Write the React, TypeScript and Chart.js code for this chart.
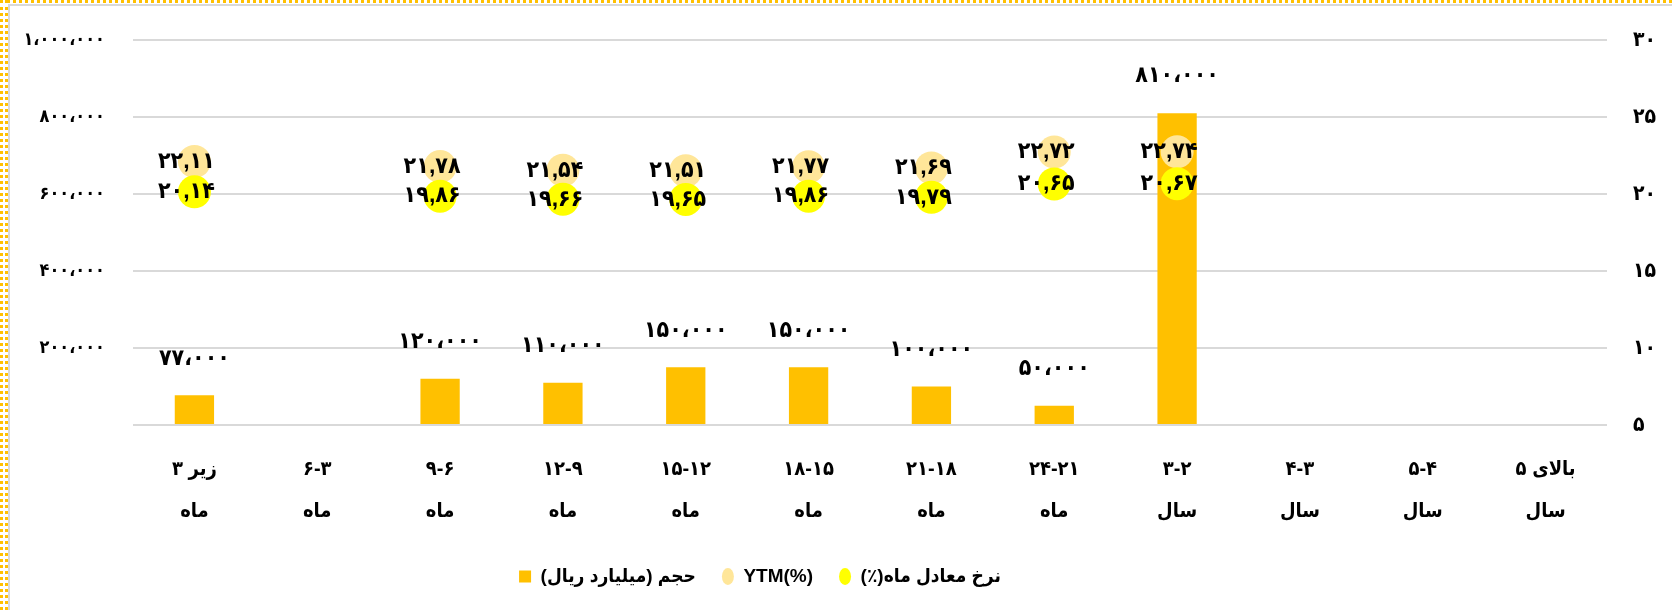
import React, { useEffect, useRef } from 'react';
import { Chart, registerables } from 'chart.js';

Chart.register(...registerables);

const FONT = '"Liberation Sans", "DejaVu Sans Condensed", "DejaVu Sans", sans-serif';

// Category labels (first line, second line)
const categories: string[][] = [
  ['۳ زیر', 'ماه'],
  ['۶\u200E-۳', 'ماه'],
  ['۹\u200E-۶', 'ماه'],
  ['۱۲\u200E-۹', 'ماه'],
  ['۱۵\u200E-۱۲', 'ماه'],
  ['۱۸\u200E-۱۵', 'ماه'],
  ['۲۱\u200E-۱۸', 'ماه'],
  ['۲۴\u200E-۲۱', 'ماه'],
  ['۳\u200E-۲', 'سال'],
  ['۴\u200E-۳', 'سال'],
  ['۵\u200E-۴', 'سال'],
  ['۵ بالای', 'سال'],
];

const volume: (number | null)[] = [77000, null, 120000, 110000, 150000, 150000, 100000, 50000, 810000, null, null, null];
const ytm: (number | null)[] = [22.11, null, 21.78, 21.54, 21.51, 21.77, 21.69, 22.72, 22.74, null, null, null];
const monthlyRate: (number | null)[] = [20.14, null, 19.86, 19.66, 19.65, 19.86, 19.79, 20.65, 20.67, null, null, null];

const seriesNames = ['حجم (میلیارد ریال)\u200F', 'YTM(%)', 'نرخ معادل ماه(٪)\u200F'];

const leftTicks = { min: 0, max: 1000000, step: 200000 };
const rightTicks = { min: 5, max: 30, step: 5 };

const FA = '۰۱۲۳۴۵۶۷۸۹';
const toFa = (s: string) => s.replace(/[0-9]/g, (d) => FA[+d]);
const fmtInt = (v: number) => toFa(Math.round(v).toString().replace(/\B(?=(\d{3})+(?!\d))/g, '،'));
const fmtDec = (v: number) => toFa(v.toFixed(2).replace('.', ','));

const valueLabels = {
  id: 'valueLabels',
  afterDatasetsDraw(chart: any) {
    const ctx = chart.ctx;
    ctx.save();
    ctx.fillStyle = '#000';
    ctx.font = `bold 23px ${FONT}`;
    ctx.textAlign = 'center';
    ctx.textBaseline = 'middle';
    const order = [2, 1, 0];
    order.forEach((di) => {
      const ds = chart.data.datasets[di];
      const meta = chart.getDatasetMeta(di);
      meta.data.forEach((el: any, i: number) => {
        const v = ds.data[i];
        if (v == null) return;
        if (ds.type === 'bar') {
          ctx.fillText(fmtInt(v), el.x, el.y - 37);
        } else {
          ctx.fillText(fmtDec(v), el.x - 8, el.y);
        }
      });
    });
    ctx.restore();
  },
};

const legendShift = {
  id: 'legendShift',
  afterLayout(chart: any) {
    const lg = chart.legend;
    if (!lg) return;
    const dx = 760 - (lg.left + lg.right) / 2;
    lg.left += dx;
    lg.right += dx;
  },
};

export default function App() {
  const ref = useRef<HTMLCanvasElement | null>(null);
  useEffect(() => {
    if (!ref.current) return;
    const chart = new Chart(ref.current, {
      type: 'bar',
      data: {
        labels: categories,
        datasets: [
          {
            type: 'line',
            label: seriesNames[2],
            data: monthlyRate,
            yAxisID: 'y1',
            showLine: false,
            pointRadius: 16.5,
            pointHoverRadius: 16.5,
            pointBorderWidth: 0,
            borderWidth: 0,
            pointBackgroundColor: '#FFFF00',
            backgroundColor: '#FFFF00',
            borderColor: '#FFFF00',
            pointStyle: 'circle',
          } as any,
          {
            type: 'line',
            label: seriesNames[1],
            data: ytm,
            yAxisID: 'y1',
            showLine: false,
            pointRadius: 16.5,
            pointHoverRadius: 16.5,
            pointBorderWidth: 0,
            borderWidth: 0,
            pointBackgroundColor: '#FFE699',
            backgroundColor: '#FFE699',
            borderColor: '#FFE699',
            pointStyle: 'circle',
          } as any,
          {
            type: 'bar',
            label: seriesNames[0],
            data: volume,
            yAxisID: 'y',
            backgroundColor: '#FFC000',
            borderWidth: 0,
            barPercentage: 0.32,
            categoryPercentage: 1,
          } as any,
        ],
      },
      options: {
        responsive: false,
        maintainAspectRatio: false,
        animation: false,
        layout: { padding: { top: 40, left: 0, right: 0, bottom: 14 } },
        plugins: {
          tooltip: { enabled: false },
          legend: {
            position: 'bottom',
            reverse: true,
            labels: {
              usePointStyle: true,
              pointStyleWidth: 12,
              boxHeight: 12,
              padding: 26,
              color: '#000',
              font: { family: FONT, size: 19, weight: 'bold' },
              generateLabels(chart: any) {
                const items = Chart.defaults.plugins.legend.labels.generateLabels(chart);
                return items.map((it: any) => {
                  const ds = chart.data.datasets[it.datasetIndex];
                  it.pointStyle = ds.type === 'bar' ? 'rect' : 'circle';
                  it.lineWidth = 0;
                  it.fillStyle = ds.backgroundColor;
                  it.strokeStyle = ds.backgroundColor;
                  return it;
                });
              },
            },
          },
        },
        scales: {
          x: {
            grid: { display: false },
            border: { display: false },
            ticks: {
              color: '#000',
              font: { family: FONT, size: 20, weight: 'bold', lineHeight: 2.1 },
              padding: 15,
              maxRotation: 0,
              autoSkip: false,
            },
            afterFit(s: any) {
              s.height = 116;
            },
          },
          y: {
            position: 'left',
            min: leftTicks.min,
            max: leftTicks.max,
            ticks: {
              stepSize: leftTicks.step,
              color: '#000',
              font: { family: FONT, size: 18, weight: 'bold' },
              padding: 28,
              callback: (v: any) => (Number(v) === 0 ? '' : fmtInt(Number(v))),
            },
            grid: { color: '#d9d9d9', lineWidth: 2, drawTicks: false },
            border: { display: false },
            afterFit(s: any) {
              s.width = 133;
            },
          },
          y1: {
            position: 'right',
            min: rightTicks.min,
            max: rightTicks.max,
            ticks: {
              stepSize: rightTicks.step,
              color: '#000',
              font: { family: FONT, size: 21, weight: 'bold' },
              padding: 26,
              callback: (v: any) => toFa(String(v)),
            },
            grid: { drawOnChartArea: false, drawTicks: false },
            border: { display: false },
            afterFit(s: any) {
              s.width = 65;
            },
          },
        },
      },
      plugins: [valueLabels, legendShift],
    } as any);
    return () => chart.destroy();
  }, []);

  const dotted = '3px dotted #FFC000';
  return (
    <div style={{ position: 'absolute', left: 0, top: 0, width: 1672, height: 610, background: '#fff', overflow: 'hidden' }}>
      <div style={{ position: 'absolute', left: 0, top: 0, width: 1672, height: 0, borderTop: dotted }} />
      <div style={{ position: 'absolute', left: 0, top: 0, width: 0, height: 610, borderLeft: dotted }} />
      <div style={{ position: 'absolute', left: 5, top: 0, width: 0, height: 610, borderLeft: dotted }} />
      <div style={{ position: 'absolute', left: 8, top: 4, width: 1664, height: 0, borderTop: '2px solid #d9d9d9' }} />
      <div style={{ position: 'absolute', left: 8, top: 4, width: 0, height: 606, borderLeft: '2px solid #d9d9d9' }} />
      <canvas ref={ref} width={1672} height={610} style={{ position: 'absolute', left: 0, top: 0, width: 1672, height: 610 }} />
    </div>
  );
}
